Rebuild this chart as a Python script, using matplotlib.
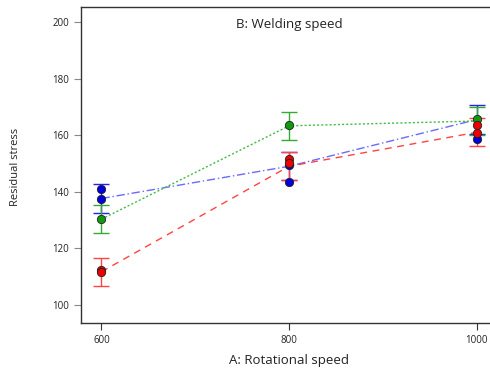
import numpy as np
import matplotlib
matplotlib.use("Agg")
import matplotlib.pyplot as plt

# rotational speed levels
speeds = [600, 800, 1000]

# mean lines for each welding speed level
blue_mean = [137.6, 149.0, 165.5]
green_mean = [130.3, 163.3, 165.0]
red_mean = [111.7, 149.0, 161.0]
lsd = 5.0

# design points
blue_pts_x = [600, 600, 800, 800, 1000]
blue_pts_y = [140.8, 137.5, 149.5, 143.6, 158.7]
green_pts_x = [600, 800, 1000]
green_pts_y = [130.5, 163.5, 165.7]
red_pts_x = [600, 600, 800, 800, 1000, 1000]
red_pts_y = [112.2, 111.5, 151.6, 150.0, 163.6, 160.8]

plt.rcParams['font.family'] = ['Open Sans', 'DejaVu Sans']

fig = plt.figure(figsize=(4.9, 3.72), dpi=100)
ax = fig.add_axes([0.165, 0.132, 0.85, 0.849])

series = [
    (blue_mean, blue_pts_x, blue_pts_y, '#6a6aff', '#2222ee', '#0000dd', (0, (6, 2, 1, 2))),
    (green_mean, green_pts_x, green_pts_y, '#44bb44', '#33aa33', '#119911', (0, (1.5, 1.5))),
    (red_mean, red_pts_x, red_pts_y, '#ff4444', '#ff4444', '#ee0000', (0, (5, 4))),
]

for mean, px, py, lc, ec, mc, ls in series:
    ax.plot(speeds, mean, color=lc, linestyle=ls, linewidth=1.0, zorder=2)
    ax.errorbar(speeds, mean, yerr=lsd, fmt='none', ecolor=ec, elinewidth=1.0,
                capsize=6, capthick=1.0, zorder=3)
    ax.scatter(px, py, s=36, color=mc, edgecolors='#222222', linewidths=0.6, zorder=4)

ax.set_xlim(578, 1022)
ax.set_ylim(93.6, 205.3)
ax.set_xticks(speeds)
ax.set_yticks([100, 120, 140, 160, 180, 200])
ax.tick_params(axis='both', labelsize=7, length=5, width=0.8)
ax.tick_params(axis='y', colors='#888888', labelcolor='#222222')
ax.tick_params(axis='x', colors='#333333', labelcolor='#222222')

ax.spines['right'].set_visible(False)
for s in ['left', 'bottom', 'top']:
    ax.spines[s].set_color('#333333')
    ax.spines[s].set_linewidth(1.0)

ax.text(0.5, 0.965, 'B: Welding speed', transform=ax.transAxes, ha='center', va='top',
        fontsize=9.5, color='#222222')
ax.set_xlabel('A: Rotational speed', fontsize=9.5, color='#222222', labelpad=6)
fig.text(0.032, 0.55, 'Residual stress', rotation=90, ha='center', va='center',
         fontsize=8, color='#222222')

fig.savefig('out.png', dpi=100)
